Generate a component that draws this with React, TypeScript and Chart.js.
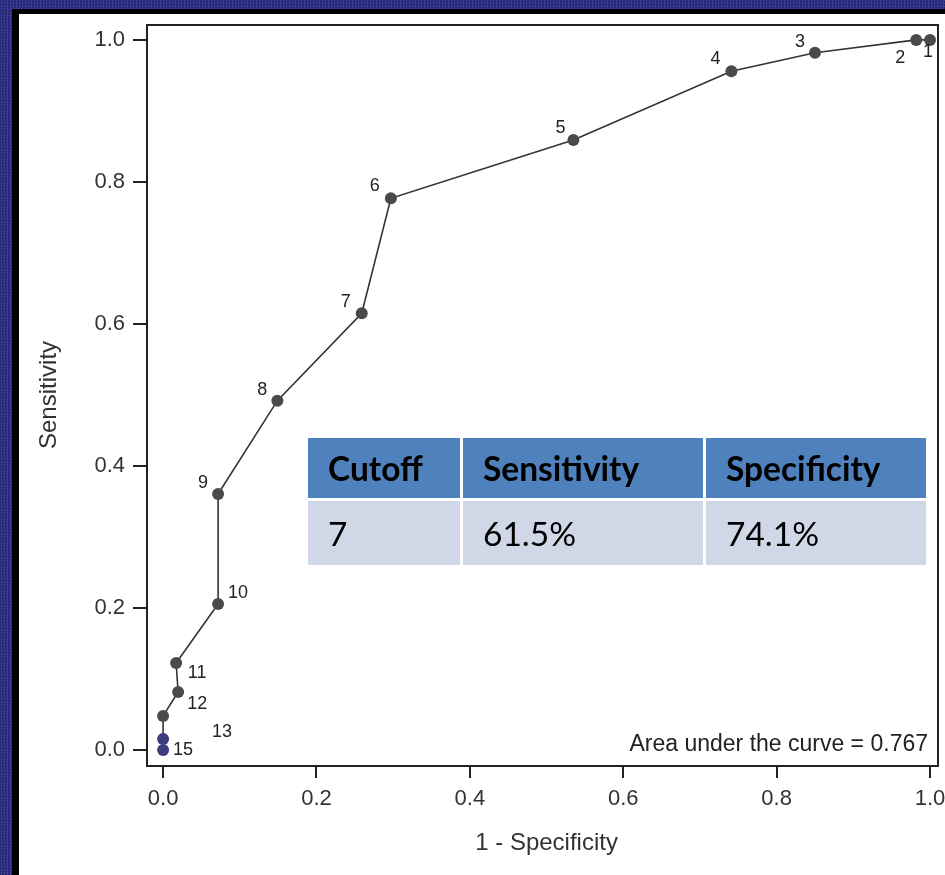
import React, { useEffect, useRef } from "react";
import { Chart, registerables } from "chart.js";

Chart.register(...registerables);

// ---- data ----
const cutoffLabels = ["1", "2", "3", "4", "5", "6", "7", "8", "9", "10", "11", "12", "13", "", "15"];
const oneMinusSpecificity = [1.0, 0.982, 0.85, 0.741, 0.535, 0.297, 0.259, 0.149, 0.0717, 0.0717, 0.017, 0.0196, 0.0, 0.0, 0.0];
const sensitivity = [1.0, 1.0, 0.982, 0.956, 0.859, 0.777, 0.615, 0.492, 0.3606, 0.2056, 0.1225, 0.0817, 0.048, 0.0155, 0.0];
const xTickValues = [0, 0.2, 0.4, 0.6, 0.8, 1.0];
const yTickValues = [0, 0.2, 0.4, 0.6, 0.8, 1.0];
const xAxisTitle = "1 - Specificity";
const yAxisTitle = "Sensitivity";
const aucText = "Area under the curve = 0.767";
const tableHeaders = ["Cutoff", "Sensitivity", "Specificity"];
const tableRow = ["7", "61.5%", "74.1%"];

// ---- style (label placement offsets in px, marker colours) ----
const labelOffsets: [number, number][] = [
  [-2, 12], [-16, 18], [-15, -11], [-16, -12], [-13, -12], [-16, -12], [-16, -11],
  [-15, -11], [-15, -11], [20, -11], [21, 10], [19, 12], [59, 16], [0, 0], [20, 0],
];
const markerColors = cutoffLabels.map((_, i) => (i >= 13 ? "#3b3b7e" : "#4a4a4a"));

const FONT = "'Liberation Sans', Arial, sans-serif";

const overlayPlugin = {
  id: "overlay",
  afterDatasetsDraw(chart: any) {
    const ctx = chart.ctx;
    const meta = chart.getDatasetMeta(0);
    ctx.save();
    ctx.fillStyle = "#222";
    ctx.font = `18px ${FONT}`;
    ctx.textAlign = "center";
    ctx.textBaseline = "middle";
    meta.data.forEach((el: any, i: number) => {
      const lbl = cutoffLabels[i];
      if (!lbl) return;
      const [dx, dy] = labelOffsets[i];
      ctx.fillText(lbl, el.x + dx, el.y + dy);
    });
    ctx.restore();
  },
  afterDraw(chart: any) {
    const ctx = chart.ctx;
    const a = chart.chartArea;
    ctx.save();
    ctx.strokeStyle = "#222";
    ctx.lineWidth = 2;
    ctx.strokeRect(a.left, a.top, a.right - a.left, a.bottom - a.top);
    // AUC note
    ctx.fillStyle = "#222";
    ctx.font = `23px ${FONT}`;
    ctx.textAlign = "right";
    ctx.textBaseline = "middle";
    ctx.fillText(aucText, a.right - 10, a.bottom - 21);
    // axis titles
    ctx.fillStyle = "#333";
    ctx.font = `24px ${FONT}`;
    ctx.textAlign = "center";
    const xs = chart.scales.x;
    ctx.fillText(xAxisTitle, xs.getPixelForValue(0.5), 829);
    ctx.translate(30, chart.scales.y.getPixelForValue(0.5));
    ctx.rotate(-Math.PI / 2);
    ctx.fillText(yAxisTitle, 0, 0);
    ctx.restore();
  },
};

function RocChart() {
  const ref = useRef<HTMLCanvasElement | null>(null);
  useEffect(() => {
    if (!ref.current) return;
    const points = oneMinusSpecificity.map((x, i) => ({ x, y: sensitivity[i] }));
    const chart = new Chart(ref.current, {
      type: "scatter",
      data: {
        datasets: [
          {
            data: points,
            showLine: true,
            borderColor: "#333",
            borderWidth: 1.6,
            pointRadius: 6,
            pointBackgroundColor: markerColors,
            pointBorderColor: markerColors,
            pointBorderWidth: 0,
          },
        ],
      },
      options: {
        responsive: false,
        animation: false,
        devicePixelRatio: 1,
        layout: { padding: { left: 0, top: 11, right: 7, bottom: 0 } },
        plugins: { legend: { display: false }, tooltip: { enabled: false } },
        scales: {
          x: {
            type: "linear",
            min: -0.021,
            max: 1.0104,
            afterBuildTicks: (s: any) => {
              s.ticks = xTickValues.map((v) => ({ value: v }));
            },
            afterFit: (s: any) => {
              s.height = 109;
              s.paddingLeft = 0;
              s.paddingRight = 0;
            },
            border: { display: false },
            grid: { drawOnChartArea: false, drawTicks: true, tickLength: 12, color: "#222", lineWidth: 2 },
            ticks: {
              padding: 8,
              color: "#333",
              font: { family: FONT, size: 22 },
              callback: (v: any) => Number(v).toFixed(1),
              maxRotation: 0,
            },
          },
          y: {
            type: "linear",
            min: -0.0225,
            max: 1.021,
            afterBuildTicks: (s: any) => {
              s.ticks = yTickValues.map((v) => ({ value: v }));
            },
            afterFit: (s: any) => {
              s.width = 128;
              s.paddingTop = 0;
              s.paddingBottom = 0;
            },
            border: { display: false },
            grid: { drawOnChartArea: false, drawTicks: true, tickLength: 14, color: "#222", lineWidth: 2 },
            ticks: {
              padding: 8,
              color: "#333",
              font: { family: FONT, size: 22 },
              callback: (v: any) => Number(v).toFixed(1),
            },
          },
        },
      },
      plugins: [overlayPlugin],
    } as any);
    return () => chart.destroy();
  }, []);
  return <canvas ref={ref} width={926} height={861} style={{ display: "block", width: 926, height: 861 }} />;
}

const cellBase: React.CSSProperties = {
  display: "flex",
  alignItems: "center",
  paddingLeft: 20,
  boxSizing: "border-box",
  color: "#000",
  fontFamily: "Lato, 'Open Sans', sans-serif",
  fontSize: 33.5,
};

export default function App() {
  const colW = [152, 240, 220];
  return (
    <>
      <style>{"body{margin:0}"}</style>
      <div
        style={{
          position: "relative",
          width: 945,
          height: 875,
          overflow: "hidden",
          backgroundColor: "#2e2e82",
          backgroundImage: "repeating-conic-gradient(#3b3b99 0% 25%, #222268 0% 50%)",
          backgroundSize: "3px 3px",
        }}
      >
        <div style={{ position: "absolute", left: 12, top: 9, width: 945, height: 875, background: "#000" }} />
        <div style={{ position: "absolute", left: 19, top: 14, width: 926, height: 861, background: "#fff" }}>
          <RocChart />
        </div>
        <div
          style={{
            position: "absolute",
            left: 308,
            top: 438,
            display: "grid",
            gridTemplateColumns: colW.map((w) => `${w}px`).join(" "),
            gridTemplateRows: "60px 64px",
            columnGap: 3,
            rowGap: 3,
          }}
        >
          {tableHeaders.map((h) => (
            <div key={h} style={{ ...cellBase, background: "#4f81bd", fontWeight: 700 }}>
              {h}
            </div>
          ))}
          {tableRow.map((c, i) => (
            <div key={i} style={{ ...cellBase, background: "#d0d8e8", fontWeight: 400 }}>
              {c}
            </div>
          ))}
        </div>
      </div>
    </>
  );
}
